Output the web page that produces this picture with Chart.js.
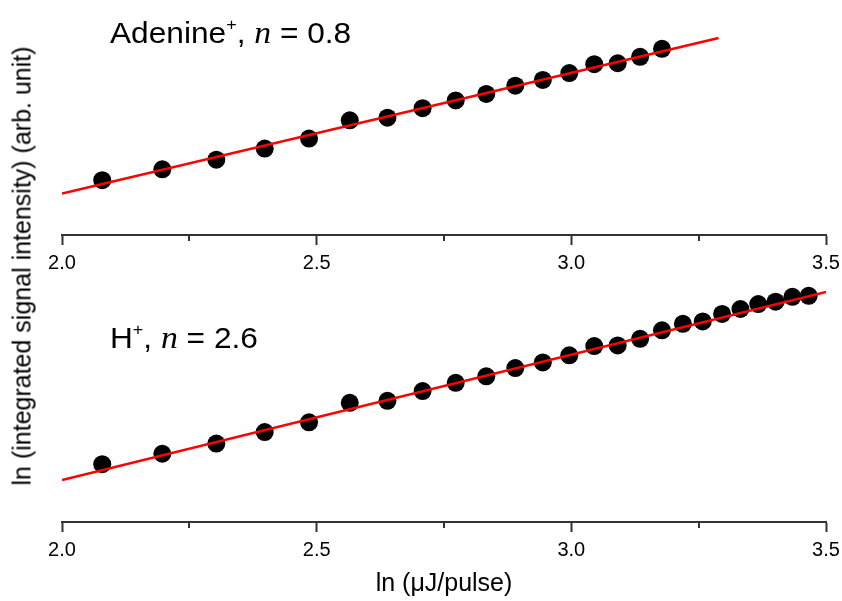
<!DOCTYPE html>
<html>
<head>
<meta charset="utf-8">
<script src="https://cdn.jsdelivr.net/npm/chart.js@4"></script>
<style>
  html, body { margin: 0; padding: 0; background: #fff; }
  body { width: 842px; height: 601px; position: relative; overflow: hidden; font-family: "Liberation Sans", Arial, sans-serif; }
  .cv { position: absolute; left: 0; }
  #c1wrap { top: 0; width: 842px; height: 285px; }
  #c2wrap { top: 272px; width: 842px; height: 329px; }
  .ann { position: absolute; font-family: "Liberation Sans", Arial, sans-serif; font-size: 30px; color: #000; white-space: nowrap; line-height: 1; transform: scaleX(1.055); transform-origin: left center; }
  .ann sup { font-size: 17px; vertical-align: 13px; line-height: 0; }
  .ann i { font-family: "Liberation Serif", "Times New Roman", serif; font-size: 32px; }
  #ytitle { position: absolute; left: 22px; top: 266px; transform: translate(-50%, -50%) rotate(-90deg); font-size: 25px; white-space: nowrap; color: #000; }
</style>
</head>
<body>
<div class="cv" id="c1wrap"><canvas id="c1"></canvas></div>
<div class="cv" id="c2wrap"><canvas id="c2"></canvas></div>
<div class="ann" id="annTop" style="left:110px; top:16px;">Adenine<sup>+</sup>, <i>n</i> = 0.8</div>
<div class="ann" id="annBot" style="left:110px; top:321px;">H<sup>+</sup>, <i>n</i> = 2.6</div>
<div id="ytitle">ln (integrated signal intensity) (arb. unit)</div>
<script>
// ln (μJ/pulse)
const lnEnergy = [2.079, 2.197, 2.303, 2.398, 2.485, 2.565, 2.639, 2.708, 2.773, 2.833, 2.890, 2.944, 2.996, 3.045, 3.091, 3.135, 3.178, 3.219, 3.258, 3.296, 3.332, 3.367, 3.401, 3.434, 3.466];
// ln (integrated signal intensity), arbitrary units
const adenineY = [0.364, 0.436, 0.500, 0.574, 0.640, 0.761, 0.779, 0.842, 0.893, 0.936, 0.991, 1.029, 1.075, 1.134, 1.140, 1.183, 1.236];
const hydrogenY = [1.199, 1.416, 1.628, 1.865, 2.069, 2.472, 2.513, 2.717, 2.887, 3.023, 3.193, 3.310, 3.459, 3.651, 3.663, 3.800, 3.977, 4.112, 4.161, 4.317, 4.419, 4.521, 4.570, 4.672, 4.692];
// linear fits (end points)
const adenineFitX = [2.0, 3.289];
const adenineFitY = [0.276, 1.308];
const hydrogenFitX = [2.0, 3.5];
const hydrogenFitY = [0.872, 4.774];
const xMajorTicks = [2.0, 2.5, 3.0, 3.5];
const xMinorTicks = [2.25, 2.75, 3.25];

function pts(xs, ys) { return ys.map((y, i) => ({ x: xs[i], y: y })); }

const minorTickPlugin = {
  id: 'minorTicks',
  afterDraw(chart) {
    const sc = chart.scales.x;
    const ctx = chart.ctx;
    ctx.save();
    ctx.strokeStyle = '#333';
    ctx.lineWidth = 2;
    xMinorTicks.forEach(v => {
      const px = Math.round(sc.getPixelForValue(v));
      ctx.beginPath();
      ctx.moveTo(px, sc.top);
      ctx.lineTo(px, sc.top + 6);
      ctx.stroke();
    });
    ctx.restore();
  }
};

function makeChart(id, ptsData, fitData, yMax, padding, xTitle) {
  return new Chart(document.getElementById(id), {
    type: 'scatter',
    data: {
      datasets: [
        { type: 'line', data: fitData, borderColor: '#ff0000', borderWidth: 2.5, pointRadius: 0, fill: false, tension: 0 },
        { data: ptsData, backgroundColor: '#000', borderColor: '#000', pointRadius: 9, pointHoverRadius: 9, borderWidth: 0 }
      ]
    },
    options: {
      responsive: true,
      maintainAspectRatio: false,
      animation: false,
      events: [],
      layout: { padding: padding },
      plugins: { legend: { display: false }, tooltip: { enabled: false } },
      scales: {
        x: {
          type: 'linear', min: 2.0, max: 3.5,
          afterBuildTicks: (s) => { s.ticks = xMajorTicks.map(v => ({ value: v })); },
          afterFit: (s) => { s.paddingLeft = 0; s.paddingRight = 0; },
          ticks: { color: '#000', font: { family: 'Liberation Sans', size: 20 }, padding: 6, callback: (v) => Number(v).toFixed(1), maxRotation: 0, autoSkip: false },
          grid: { drawOnChartArea: false, drawTicks: true, tickLength: 10, tickColor: '#333', tickWidth: 2 },
          border: { display: true, color: '#333', width: 2 },
          title: xTitle ? { display: true, text: xTitle, color: '#000', font: { family: 'Liberation Sans', size: 25 }, padding: { top: 1, bottom: 0 } } : { display: false }
        },
        y: { type: 'linear', min: 0, max: yMax, display: false }
      }
    },
    plugins: [minorTickPlugin]
  });
}

makeChart('c1', pts(lnEnergy, adenineY), pts(adenineFitX, adenineFitY), 1.5, { left: 62, right: 16, top: 1, bottom: 4 }, null);
makeChart('c2', pts(lnEnergy, hydrogenY), pts(hydrogenFitX, hydrogenFitY), 5.0, { left: 62, right: 16, top: 5, bottom: 2 }, 'ln (\u03bcJ/pulse)');
</script>
</body>
</html>
